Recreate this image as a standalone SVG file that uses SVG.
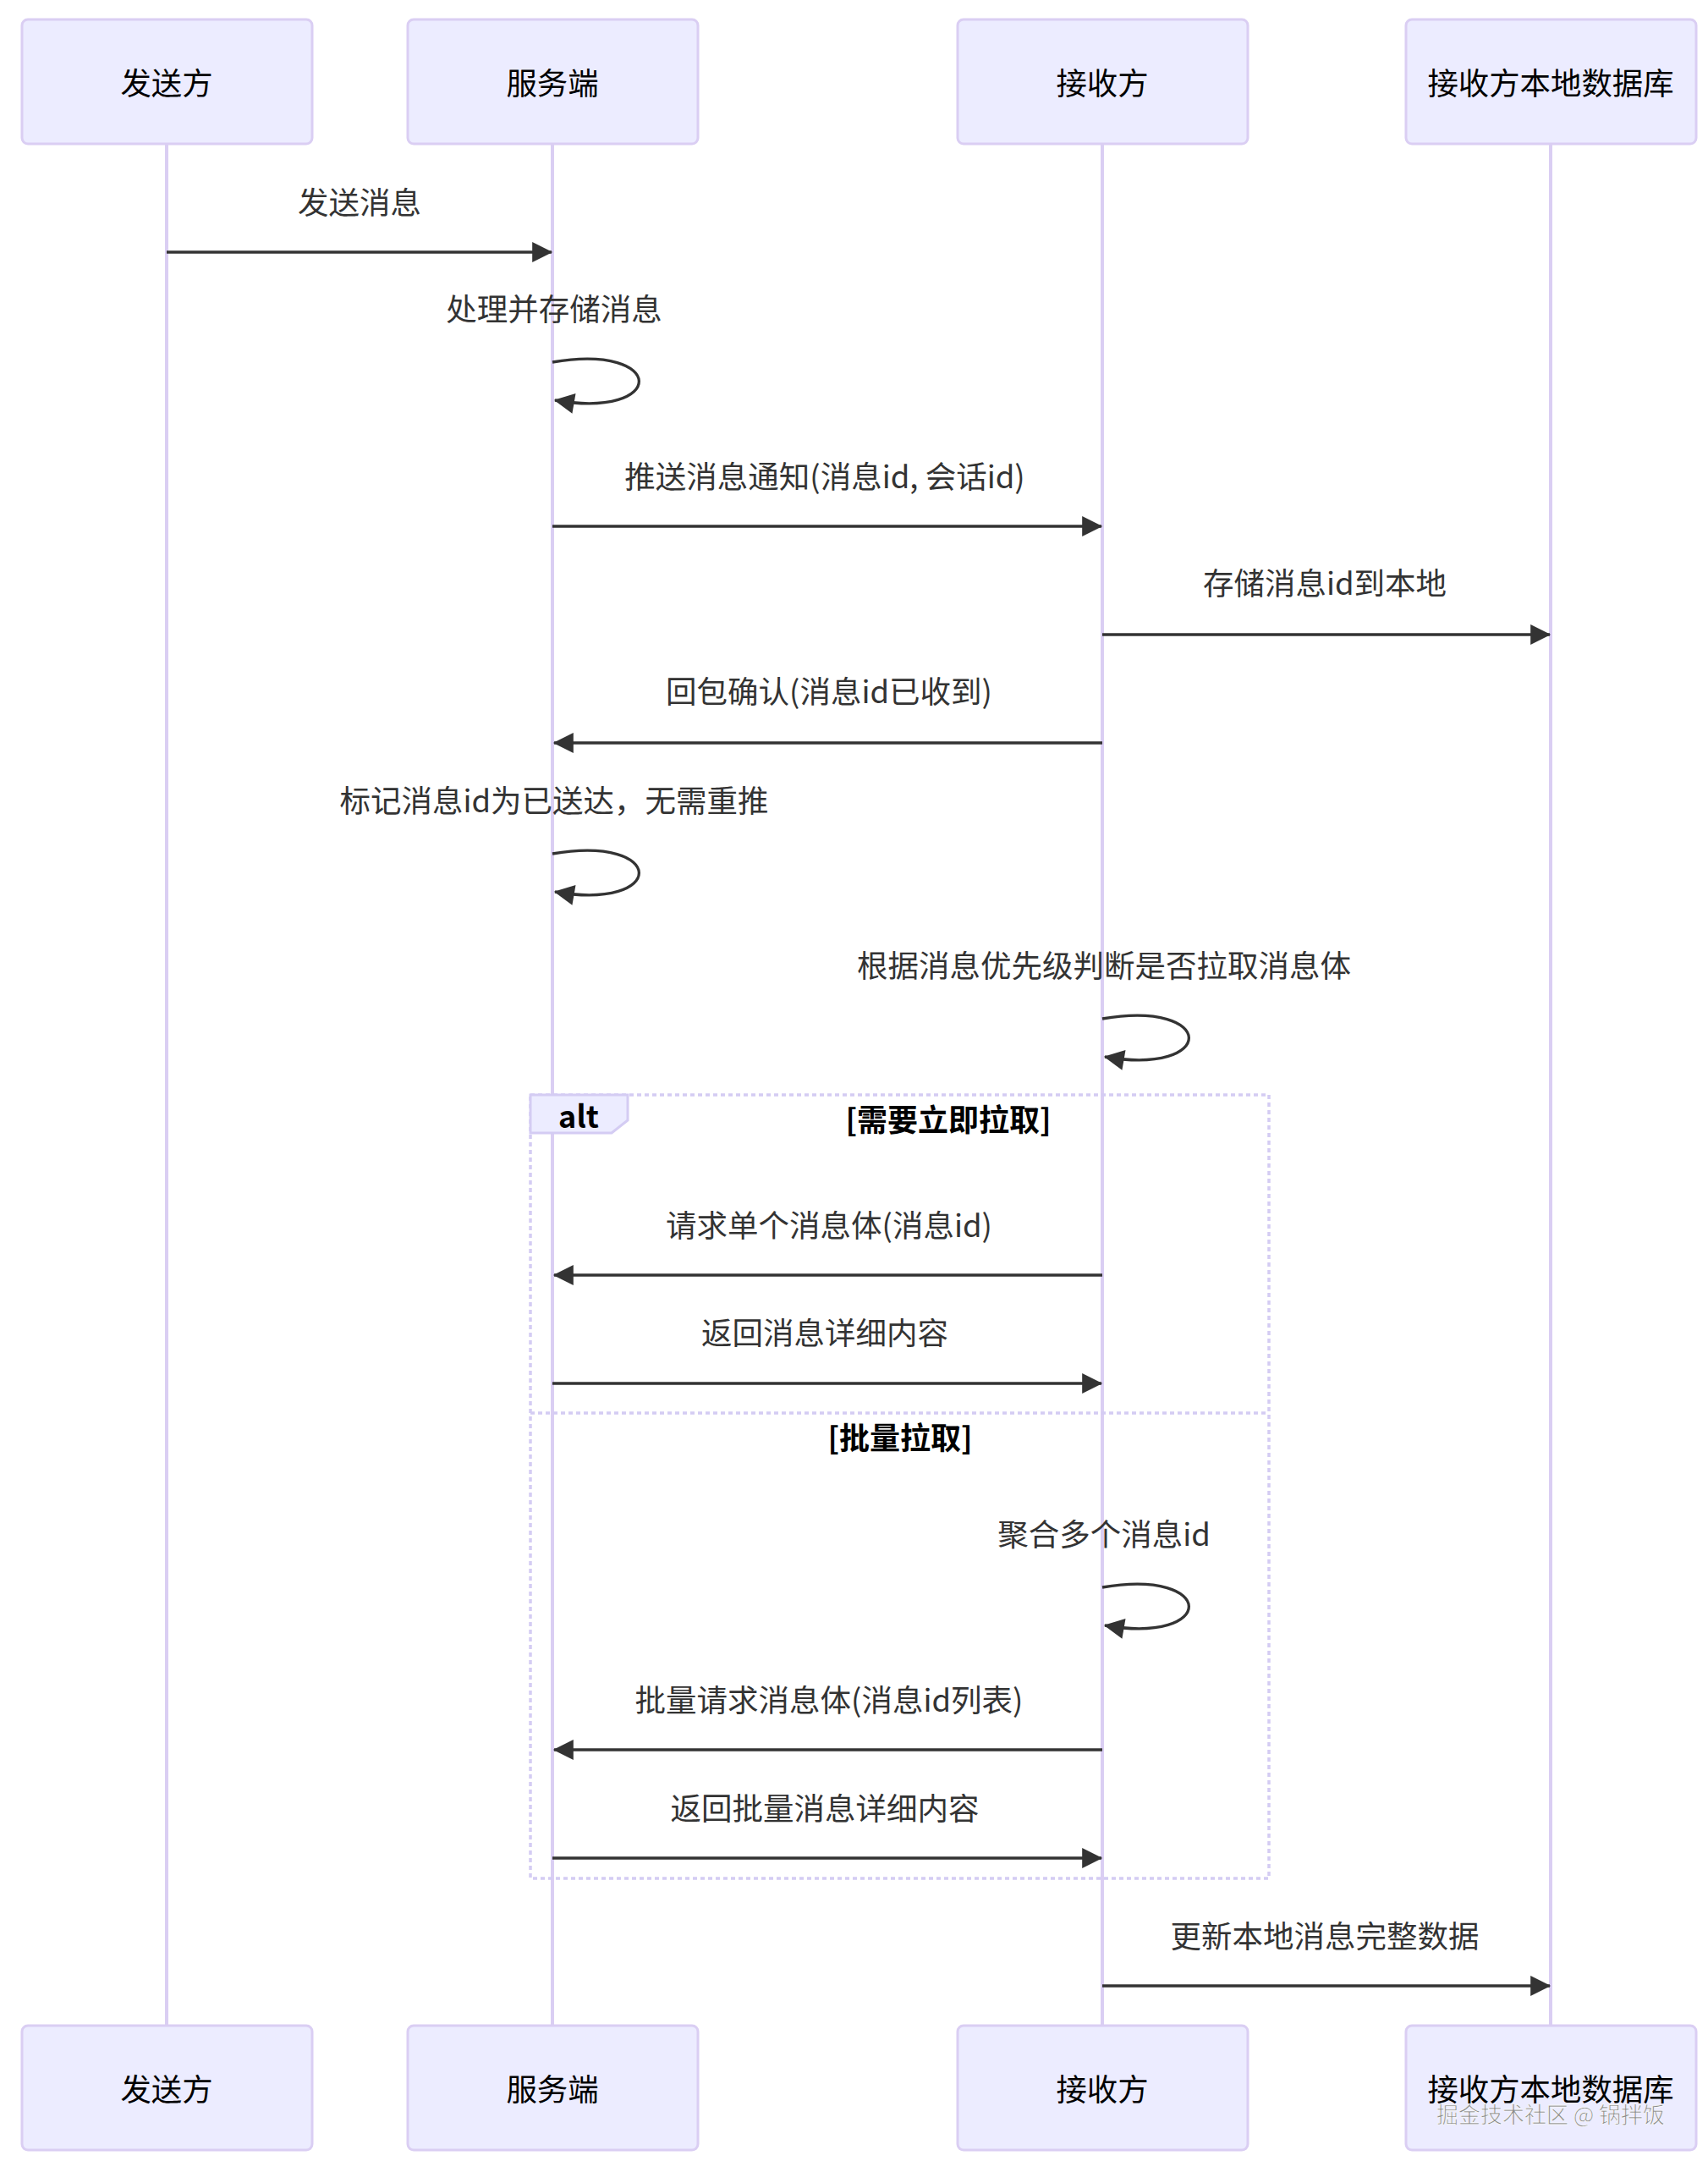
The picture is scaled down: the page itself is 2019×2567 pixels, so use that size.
<svg xmlns="http://www.w3.org/2000/svg" width="2019" height="2567" viewBox="0 0 2019 2567">
<style>
text{font-family:"Noto Sans CJK SC","Noto Sans",sans-serif;}
.actor{fill:#ECECFF;stroke:#dacef3;stroke-width:3;}
.atext{font-size:36.4px;fill:#000;text-anchor:middle;dominant-baseline:central;}
.life{stroke:#dacef3;stroke-width:4;}
.msg{stroke:#333;stroke-width:3.3;fill:none;}
.mtext{font-size:36.5px;fill:#333;text-anchor:middle;dominant-baseline:central;}
.loop{stroke:#d4ccf3;stroke-width:3.5;stroke-dasharray:5 4;fill:none;}
.lbl{fill:#ECECFF;stroke:#d4ccf3;stroke-width:3;}
.ltext{font-size:36px;fill:#000;font-weight:bold;text-anchor:middle;dominant-baseline:central;}
.wm{font-size:26px;fill:#8c8c8c;text-anchor:middle;dominant-baseline:central;stroke:#fff;stroke-width:0.6;}
</style>
<defs>
<marker id="ah" viewBox="0 0 10 10" refX="9.5" refY="5" markerWidth="26" markerHeight="24" markerUnits="userSpaceOnUse" orient="auto">
<path d="M0,0 L10,5 L0,10 z" fill="#333"/>
</marker>
</defs>
<rect width="2019" height="2567" fill="#fff"/>
<g id="lifelines">
<line class="life" x1="197" y1="170" x2="197" y2="2394"/>
<line class="life" x1="653" y1="170" x2="653" y2="2394"/>
<line class="life" x1="1303" y1="170" x2="1303" y2="2394"/>
<line class="life" x1="1833" y1="170" x2="1833" y2="2394"/>
</g>
<g id="actor-sender-top"><rect class="actor" x="26" y="23" width="343" height="147" rx="7"/><text class="atext" x="197" y="96">发送方</text></g>
<g id="actor-server-top"><rect class="actor" x="482" y="23" width="343" height="147" rx="7"/><text class="atext" x="653" y="96">服务端</text></g>
<g id="actor-receiver-top"><rect class="actor" x="1132" y="23" width="343" height="147" rx="7"/><text class="atext" x="1303" y="96">接收方</text></g>
<g id="actor-db-top"><rect class="actor" x="1662" y="23" width="343" height="147" rx="7"/><text class="atext" x="1833" y="96">接收方本地数据库</text></g>
<g id="alt-frame">
<rect class="loop" x="627" y="1294" width="873" height="926"/>
<line class="loop" x1="627" y1="1670" x2="1500" y2="1670"/>
<polygon class="lbl" points="627,1294 742,1294 742,1324 723,1339 627,1339"/>
<text class="ltext" x="684" y="1317" font-weight="normal">alt</text>
<text class="ltext" x="1121" y="1321">[需要立即拉取]</text>
<text class="ltext" x="1064" y="1697">[批量拉取]</text>
</g>
<g id="connectors">
<text class="mtext" x="425" y="237">发送消息</text>
<line class="msg" x1="197" y1="298" x2="652" y2="298" marker-end="url(#ah)"/>
<text class="mtext" x="655" y="363">处理并存储消息</text>
<path class="msg" d="M653,428 C789,405 789,496 656,473" marker-end="url(#ah)"/>
<text class="mtext" x="975" y="561">推送消息通知(消息id, 会话id)</text>
<line class="msg" x1="653" y1="622" x2="1302" y2="622" marker-end="url(#ah)"/>
<text class="mtext" x="1566" y="687">存储消息id到本地</text>
<line class="msg" x1="1303" y1="750" x2="1832" y2="750" marker-end="url(#ah)"/>
<text class="mtext" x="980" y="815">回包确认(消息id已收到)</text>
<line class="msg" x1="1303" y1="878" x2="655" y2="878" marker-end="url(#ah)"/>
<text class="mtext" x="655" y="944">标记消息id为已送达，无需重推</text>
<path class="msg" d="M653,1009 C789,986 789,1077 656,1054" marker-end="url(#ah)"/>
<text class="mtext" x="1305" y="1139">根据消息优先级判断是否拉取消息体</text>
<path class="msg" d="M1303,1204 C1439,1181 1439,1272 1306,1249" marker-end="url(#ah)"/>
<text class="mtext" x="980" y="1446">请求单个消息体(消息id)</text>
<line class="msg" x1="1303" y1="1507" x2="655" y2="1507" marker-end="url(#ah)"/>
<text class="mtext" x="975" y="1573">返回消息详细内容</text>
<line class="msg" x1="653" y1="1635" x2="1302" y2="1635" marker-end="url(#ah)"/>
<text class="mtext" x="1305" y="1811">聚合多个消息id</text>
<path class="msg" d="M1303,1876 C1439,1853 1439,1944 1306,1921" marker-end="url(#ah)"/>
<text class="mtext" x="980" y="2007">批量请求消息体(消息id列表)</text>
<line class="msg" x1="1303" y1="2068" x2="655" y2="2068" marker-end="url(#ah)"/>
<text class="mtext" x="975" y="2135">返回批量消息详细内容</text>
<line class="msg" x1="653" y1="2196" x2="1302" y2="2196" marker-end="url(#ah)"/>
<text class="mtext" x="1566" y="2286">更新本地消息完整数据</text>
<line class="msg" x1="1303" y1="2347" x2="1832" y2="2347" marker-end="url(#ah)"/>
</g>
<g id="actor-sender-bottom"><rect class="actor" x="26" y="2394" width="343" height="147" rx="7"/><text class="atext" x="197" y="2467">发送方</text></g>
<g id="actor-server-bottom"><rect class="actor" x="482" y="2394" width="343" height="147" rx="7"/><text class="atext" x="653" y="2467">服务端</text></g>
<g id="actor-receiver-bottom"><rect class="actor" x="1132" y="2394" width="343" height="147" rx="7"/><text class="atext" x="1303" y="2467">接收方</text></g>
<g id="actor-db-bottom"><rect class="actor" x="1662" y="2394" width="343" height="147" rx="7"/><text class="atext" x="1833" y="2467">接收方本地数据库</text></g>
<text class="wm" x="1833" y="2497">掘金技术社区 @ 锅拌饭</text>
</svg>
